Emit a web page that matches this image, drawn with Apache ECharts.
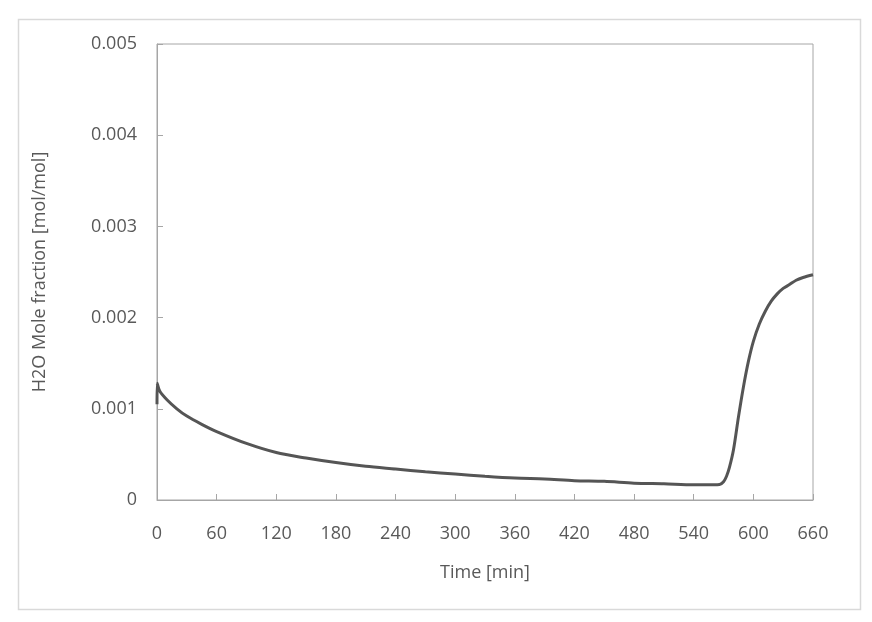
<!DOCTYPE html>
<html>
<head>
<meta charset="utf-8">
<script src="https://cdn.jsdelivr.net/npm/echarts@6/dist/echarts.min.js"></script>
<style>html,body{margin:0;padding:0;background:#fff}#c{width:872px;height:622px}</style>
</head>
<body>
<div id="c"></div>
<script>
var timeMin = [0, 0.2, 3, 10, 20, 30, 45, 60, 90, 120, 150, 180, 210, 240, 270, 300, 330, 360, 390, 420, 450, 480, 510, 540, 560, 566, 570, 573, 576, 580, 585, 590, 595, 600, 606, 612, 618, 624, 630, 636, 643, 650, 660];
var h2oFraction = [0.00105, 0.00128, 0.00119, 0.00110, 0.00100, 0.00092, 0.00083, 0.00075, 0.00062, 0.00052, 0.00046, 0.00041, 0.00037, 0.00034, 0.00031, 0.000285, 0.00026, 0.00024, 0.00023, 0.000212, 0.000205, 0.000185, 0.000178, 0.000168, 0.000168, 0.00017, 0.0002, 0.00026, 0.00036, 0.00055, 0.00091, 0.00124, 0.00152, 0.00174, 0.00193, 0.00207, 0.00218, 0.00226, 0.00232, 0.00236, 0.00241, 0.00244, 0.00247];
var xTitle = 'Time [min]';
var yTitle = 'H2O Mole fraction [mol/mol]';

var pts = timeMin.map(function (t, i) { return [t, h2oFraction[i]]; });
var chart = echarts.init(document.getElementById('c'), null, {renderer: 'canvas'});
var font = '"Open Sans", "Noto Sans", sans-serif';
chart.setOption({
  animation: false,
  backgroundColor: '#fff',
  graphic: [{
    type: 'rect', left: 16, top: 17,
    shape: {width: 842, height: 590},
    style: {fill: 'none', stroke: '#d9d9d9', lineWidth: 1.5}
  }],
  grid: {left: 157, right: 59, top: 44, bottom: 122, show: true, borderColor: '#a6a6a6', borderWidth: 1, backgroundColor: 'transparent'},
  xAxis: {
    type: 'value', min: 0, max: 660, interval: 60,
    name: xTitle, nameLocation: 'middle', nameGap: 64,
    nameTextStyle: {fontFamily: font, fontSize: 18, color: '#595959'},
    axisLine: {show: true, lineStyle: {color: '#a6a6a6'}},
    axisTick: {show: true, inside: true, length: 6, lineStyle: {color: '#a6a6a6'}},
    axisLabel: {fontFamily: font, fontSize: 18, color: '#595959', margin: 25},
    splitLine: {show: false}
  },
  yAxis: {
    type: 'value', min: 0, max: 0.005, interval: 0.001,
    name: yTitle, nameLocation: 'middle', nameGap: 108,
    nameTextStyle: {fontFamily: font, fontSize: 18, color: '#595959'},
    axisLine: {show: true, lineStyle: {color: '#a6a6a6'}},
    axisTick: {show: true, inside: true, length: 6, lineStyle: {color: '#a6a6a6'}},
    axisLabel: {fontFamily: font, fontSize: 18, color: '#595959', margin: 20,
      formatter: function (v) { return v === 0 ? '0' : v.toFixed(3); }},
    splitLine: {show: false}
  },
  series: [{
    type: 'line', data: pts, showSymbol: false, smooth: 0.3,
    lineStyle: {color: '#555555', width: 3},
    clip: true
  }]
});
</script>
</body>
</html>
